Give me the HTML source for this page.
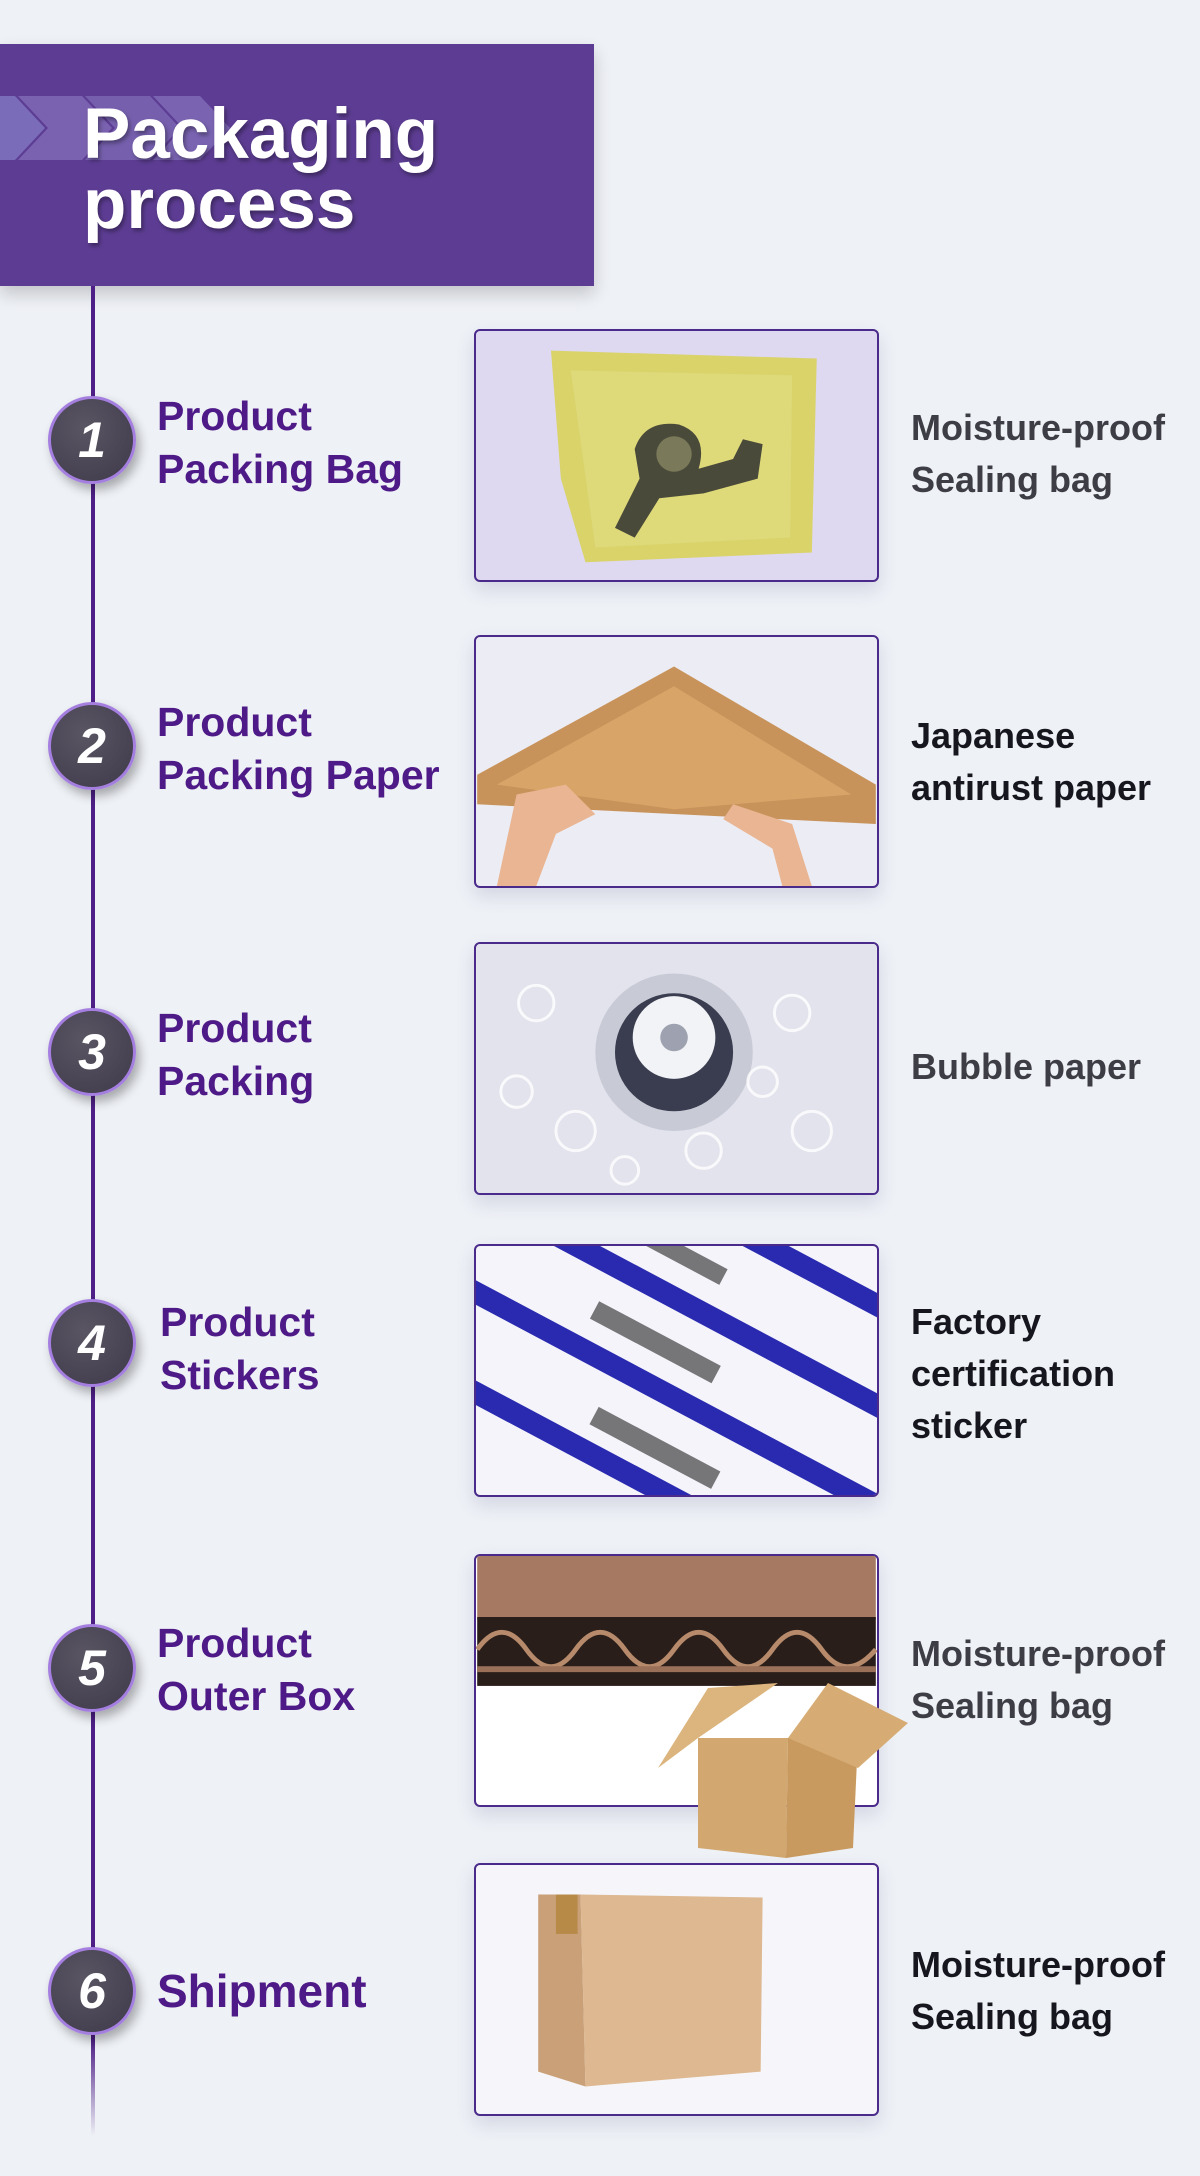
<!DOCTYPE html>
<html><head><meta charset="utf-8"><style>
*{margin:0;padding:0;box-sizing:border-box}
body{width:1200px;height:2176px;background:#eef1f6;position:relative;overflow:hidden;font-family:"Liberation Sans",sans-serif}
.hdr{position:absolute;left:0;top:44px;width:594px;height:242px;background:#5d3d93;box-shadow:0 8px 16px rgba(0,0,0,.18)}
.title{position:absolute;left:83px;top:100px;color:#fff;font-weight:bold;font-size:71px;line-height:70px;text-shadow:2px 3px 4px rgba(0,0,0,.35)}
.vline{position:absolute;left:91px;top:286px;width:4px;height:1820px;background:#4e1f86}
.vfade{position:absolute;left:91px;top:2040px;width:4px;height:96px;background:linear-gradient(#4e1f86,#eef1f6)}
.c{position:absolute;width:88px;height:88px;border-radius:50%;background:radial-gradient(circle at 40% 35%,#5a5563,#3e3a4a);border:3px solid #a47fe0;box-shadow:4px 6px 10px rgba(0,0,0,.3);color:#fff;font-weight:bold;font-style:italic;font-size:50px;text-align:center;line-height:82px}
.lab{position:absolute;left:157px;color:#4e1a87;font-weight:bold;font-size:41px;line-height:53px}
.img{position:absolute;left:474px;width:405px;height:253px;border:2px solid #4a2a8a;border-radius:6px;overflow:hidden;box-shadow:0 8px 18px rgba(60,60,120,.15)}
.img svg{display:block;width:100%;height:100%}
.rt{position:absolute;left:911px;color:#3d3d45;font-weight:bold;font-size:36px;line-height:52px}
.dk{color:#16161e}
</style></head><body>
<div class="hdr">
<svg width="240" height="70" style="position:absolute;left:0;top:52px">
<polygon points="0,0 15,0 45,32 15,64 0,64" fill="#7a6cb8"/>
<polygon points="18,0 82,0 112,32 82,64 18,64 48,32" fill="#7a62b0"/>
<polygon points="85,0 150,0 180,32 150,64 85,64 115,32" fill="#7660ae"/>
<polygon points="153,0 200,0 230,32 200,64 153,64 183,32" fill="#7a64b2"/>
</svg>
</div>
<div class="title">Packaging<br>process</div>
<div class="vline"></div><div class="vfade"></div>

<div class="c" style="left:48px;top:396px">1</div>
<div class="lab" style="top:390px">Product<br>Packing Bag</div>
<div class="img" style="top:329px;background:#ded9f0"><svg viewBox="0 0 405 253"><polygon points="75,20 345,28 340,225 110,235 85,150" fill="#d9d36a"/><polygon points="95,40 320,45 318,210 120,220" fill="#e0dc80" opacity=".7"/><path d="M140,200 L165,150 L160,120 Q170,90 205,95 Q235,105 225,140 L260,130 L270,110 L290,115 L285,150 L230,165 L185,170 L160,210 Z" fill="#4a4a3a"/><circle cx="200" cy="125" r="18" fill="#7a7a5a"/></svg></div>
<div class="rt" style="top:402px">Moisture-proof<br>Sealing bag</div>

<div class="c" style="left:48px;top:702px">2</div>
<div class="lab" style="top:696px">Product<br>Packing Paper</div>
<div class="img" style="top:635px;background:#ececf4"><svg viewBox="0 0 405 253"><polygon points="0,140 200,30 405,150 405,190 0,170" fill="#c8935a"/><polygon points="20,150 200,50 380,160 200,175" fill="#d9a468"/><path d="M20,253 L40,160 L90,150 L120,180 L80,200 L60,253Z" fill="#e9b592"/><path d="M340,253 L320,190 L260,170 L250,185 L300,215 L310,253Z" fill="#e9b592"/></svg></div>
<div class="rt dk" style="top:710px">Japanese<br>antirust paper</div>

<div class="c" style="left:48px;top:1008px">3</div>
<div class="lab" style="top:1002px">Product<br>Packing</div>
<div class="img" style="top:942px;background:#e6e7ef"><svg viewBox="0 0 405 253"><rect width="405" height="253" fill="#e2e3ec"/><circle cx="200" cy="110" r="80" fill="#c8cad6"/><circle cx="200" cy="110" r="60" fill="#3a3d50"/><circle cx="200" cy="95" r="42" fill="#f2f3f6"/><circle cx="200" cy="95" r="14" fill="#9ea2b0"/><g fill="none" stroke="#fff" stroke-width="3" opacity=".8"><circle cx="60" cy="60" r="18"/><circle cx="100" cy="190" r="20"/><circle cx="320" cy="70" r="18"/><circle cx="340" cy="190" r="20"/><circle cx="230" cy="210" r="18"/><circle cx="40" cy="150" r="16"/><circle cx="150" cy="230" r="14"/><circle cx="290" cy="140" r="15"/></g></svg></div>
<div class="rt" style="top:1041px">Bubble paper</div>

<div class="c" style="left:48px;top:1299px">4</div>
<div class="lab" style="top:1296px;left:160px">Product<br>Stickers</div>
<div class="img" style="top:1244px;background:#f4f4fa"><svg viewBox="0 0 405 253"><g transform="rotate(28 200 126)"><rect x="-100" y="-40" width="600" height="22" fill="#2a2ab0"/><rect x="-100" y="50" width="600" height="22" fill="#2a2ab0"/><rect x="-100" y="140" width="600" height="22" fill="#2a2ab0"/><rect x="-100" y="230" width="600" height="22" fill="#2a2ab0"/><g fill="#222"><rect x="100" y="100" width="140" height="20" opacity=".6"/><rect x="150" y="195" width="140" height="20" opacity=".6"/><rect x="60" y="10" width="140" height="18" opacity=".6"/></g></g></svg></div>
<div class="rt dk" style="top:1296px">Factory<br>certification<br>sticker</div>

<div class="c" style="left:48px;top:1624px">5</div>
<div class="lab" style="top:1617px">Product<br>Outer Box</div>
<div class="img" style="top:1554px;background:#fff"><svg viewBox="0 0 405 253"><rect width="405" height="65" fill="#a67a62"/><rect y="62" width="405" height="70" fill="#2a1e1a"/><path d="M0,95 Q25,60 50,95 T100,95 T150,95 T200,95 T250,95 T300,95 T350,95 T405,95" fill="none" stroke="#b68a6a" stroke-width="5"/><rect y="112" width="405" height="6" fill="#9a7058"/></svg></div>
<svg width="260" height="175" style="position:absolute;left:658px;top:1683px"><polygon points="40,55 130,55 128,175 40,165" fill="#d2a870"/><polygon points="130,55 200,55 195,165 128,175" fill="#c89a60"/><polygon points="40,55 0,85 50,5 120,0" fill="#dcb47e"/><polygon points="130,55 170,0 250,40 200,85" fill="#d6ac74"/></svg>
<div class="rt" style="top:1628px">Moisture-proof<br>Sealing bag</div>

<div class="c" style="left:48px;top:1947px">6</div>
<div class="lab" style="top:1965px;font-size:46px">Shipment</div>
<div class="img" style="top:1863px;background:#f6f6fa"><svg viewBox="0 0 405 253"><polygon points="62,30 105,30 110,225 62,210" fill="#c9a078"/><polygon points="105,30 290,33 288,210 110,225" fill="#ddb890"/><rect x="80" y="30" width="22" height="40" fill="#b88a48"/></svg></div>
<div class="rt dk" style="top:1939px">Moisture-proof<br>Sealing bag</div>
</body></html>
